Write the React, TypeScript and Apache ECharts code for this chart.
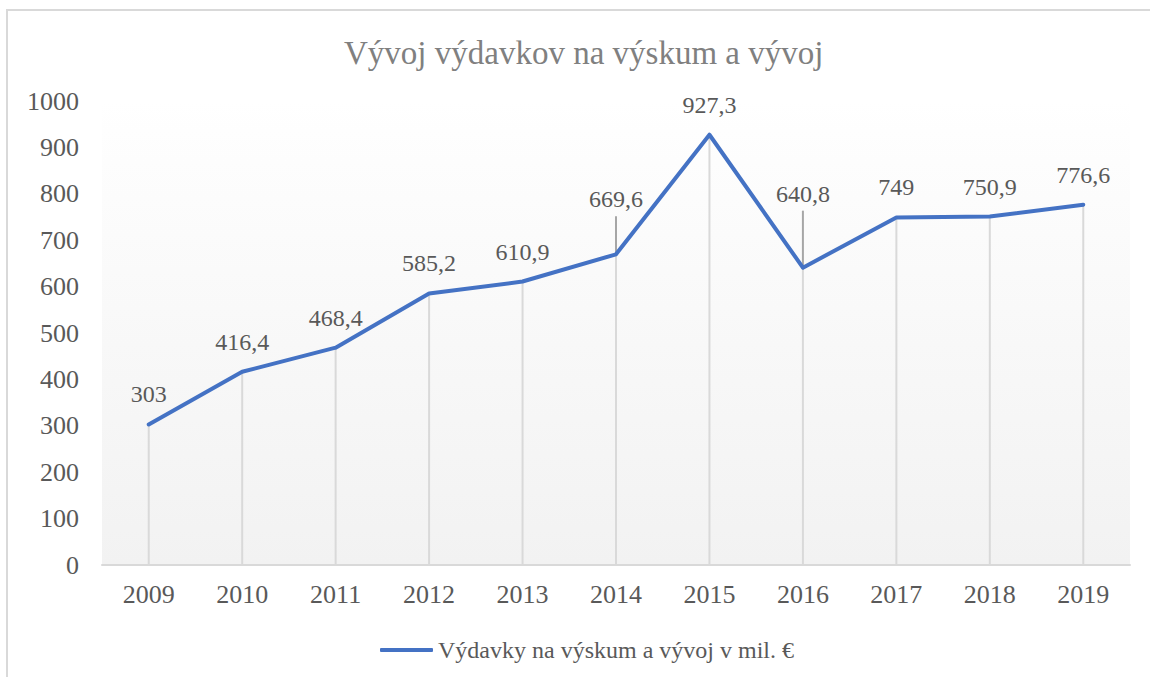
import React, { useEffect, useRef } from "react";
import * as echarts from "echarts";

const years = ["2009", "2010", "2011", "2012", "2013", "2014", "2015", "2016", "2017", "2018", "2019"];
const values = [303, 416.4, 468.4, 585.2, 610.9, 669.6, 927.3, 640.8, 749, 750.9, 776.6];
const labels = ["303", "416,4", "468,4", "585,2", "610,9", "669,6", "927,3", "640,8", "749", "750,9", "776,6"];
const seriesName = "Výdavky na výskum a vývoj v mil. €";
const titleText = "Vývoj výdavkov na výskum a vývoj";
const yTicks = { min: 0, max: 1000, interval: 100 };

// label lift above the point (px); larger where Excel used leader lines
const labelLift = [30, 30, 30, 30, 30, 55, 30, 74, 30, 30, 30];

const FONT = "Liberation Serif";

export default function App() {
  const ref = useRef<HTMLDivElement>(null);
  useEffect(() => {
    if (!ref.current) return;
    const chart = echarts.init(ref.current, undefined, { renderer: "svg" });
    chart.setOption({
      animation: false,
      backgroundColor: "#ffffff",
      textStyle: { fontFamily: FONT },
      title: {
        text: titleText,
        left: 339,
        top: 29,
        textStyle: { fontFamily: FONT, fontSize: 33, fontWeight: "normal", color: "#808080", lineHeight: 38 },
      },
      graphic: [
        {
          type: "rect",
          shape: { x: 7, y: 10, width: 1160, height: 700 },
          style: { fill: "none", stroke: "#d9d9d9", lineWidth: 2 },
          silent: true,
          z: 100,
        },
      ],
      legend: {
        top: 632,
        left: 375,
        icon: "roundRect",
        itemWidth: 53,
        itemHeight: 4,
        textStyle: { fontFamily: FONT, fontSize: 24, color: "#595959", lineHeight: 26 },
        data: [seriesName],
      },
      grid: {
        left: 102,
        right: 20,
        top: 101,
        bottom: 112,
        show: true,
        borderWidth: 0,
        backgroundColor: new echarts.graphic.LinearGradient(0, 0, 0, 1, [
          { offset: 0, color: "#ffffff" },
          { offset: 0.13, color: "#fdfdfd" },
          { offset: 1, color: "#f2f2f2" },
        ]),
      },
      xAxis: {
        type: "category",
        data: years,
        boundaryGap: true,
        axisLine: { show: true, lineStyle: { color: "#d9d9d9", width: 2 } },
        axisTick: { show: false },
        splitLine: { show: false },
        axisLabel: { fontFamily: FONT, fontSize: 26, color: "#595959", margin: 16 },
      },
      yAxis: {
        type: "value",
        min: yTicks.min,
        max: yTicks.max,
        interval: yTicks.interval,
        axisLine: { show: false },
        axisTick: { show: false },
        splitLine: { show: false },
        axisLabel: {
          fontFamily: FONT,
          fontSize: 26,
          color: "#595959",
          margin: 23,
          formatter: (v: number) => String(v),
        },
      },
      series: [
        {
          type: "custom",
          name: "drop",
          silent: true,
          z: 1,
          data: values.map((v, i) => [i, v]),
          renderItem: (params: any, api: any) => {
            const i = api.value(0);
            const v = api.value(1);
            const p0 = api.coord([i, 0]);
            const p1 = api.coord([i, v]);
            const children: any[] = [
              {
                type: "line",
                shape: { x1: p0[0], y1: p0[1], x2: p1[0], y2: p1[1] },
                style: { stroke: "#d9d9d9", lineWidth: 2 },
              },
            ];
            const lift = labelLift[params.dataIndex];
            if (lift > 40) {
              children.push({
                type: "line",
                shape: { x1: p1[0], y1: p1[1], x2: p1[0], y2: p1[1] - (lift - 17) },
                style: { stroke: "#a6a6a6", lineWidth: 2 },
              });
            }
            return { type: "group", children };
          },
        },
        {
          type: "line",
          name: seriesName,
          z: 3,
          data: values.map((v, i) => ({
            value: v,
            label: { offset: [0, -labelLift[i]] },
          })),
          symbol: "circle",
          symbolSize: 3,
          showSymbol: true,
          itemStyle: { color: "#4472c4" },
          lineStyle: { color: "#4472c4", width: 4, cap: "round", join: "round" },
          label: {
            show: true,
            position: "inside",
            fontFamily: FONT,
            fontSize: 24,
            color: "#595959",
            formatter: (p: any) => labels[p.dataIndex],
          },
        },
      ],
    });
    return () => chart.dispose();
  }, []);
  return (
    <div style={{ position: "absolute", left: 0, top: 0, width: 1150, height: 677 }}>
      <div ref={ref} style={{ width: 1150, height: 677 }} />
    </div>
  );
}
